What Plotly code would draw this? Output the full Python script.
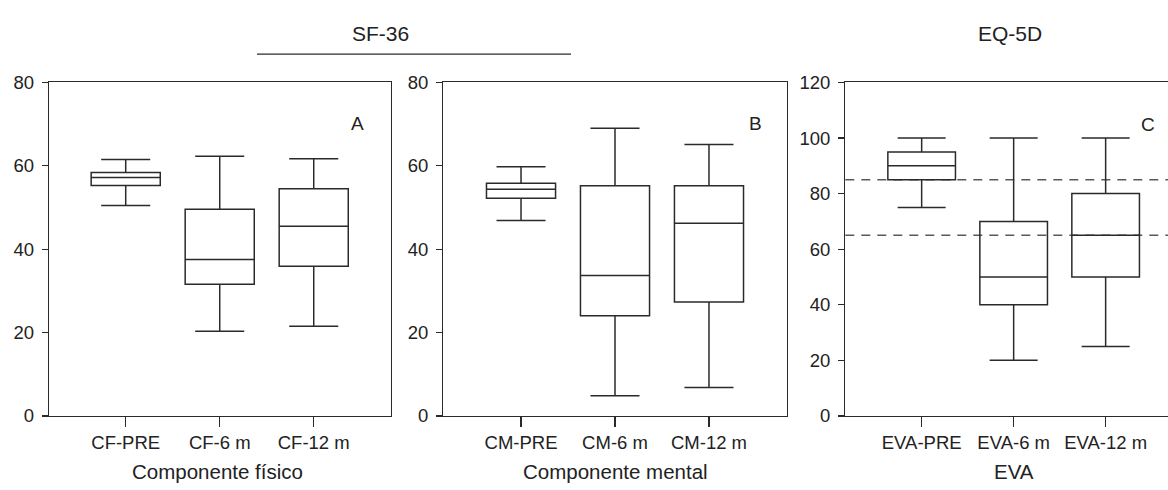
import plotly.graph_objects as go

# ---- data ----
cf_cats = ["CF-PRE", "CF-6 m", "CF-12 m"]
cf_low = [50.5, 20.3, 21.5]
cf_q1 = [55.3, 31.6, 35.9]
cf_med = [57.2, 37.5, 45.5]
cf_q3 = [58.4, 49.6, 54.5]
cf_high = [61.5, 62.3, 61.7]

cm_cats = ["CM-PRE", "CM-6 m", "CM-12 m"]
cm_low = [46.9, 4.8, 6.8]
cm_q1 = [52.2, 24.0, 27.3]
cm_med = [54.4, 33.7, 46.2]
cm_q3 = [55.8, 55.2, 55.2]
cm_high = [59.8, 69.0, 65.1]

eva_cats = ["EVA-PRE", "EVA-6 m", "EVA-12 m"]
eva_low = [75, 20, 25]
eva_q1 = [85, 40, 50]
eva_med = [90, 50, 65]
eva_q3 = [95, 70, 80]
eva_high = [100, 100, 100]
eva_refs = [85, 65]

sf_ticks = [0, 20, 40, 60, 80]
eva_ticks = [0, 20, 40, 60, 80, 100, 120]

# ---- styling ----
FONT = "Liberation Sans, Arial, sans-serif"
TXT = "#222222"
LINE = "#2a2a2a"
# the figure is a bit wider than the 1168 px window: panel C's right edge
# falls outside the visible picture, as in the reference
W, H = 1192, 490

def px_x(p):
    return p / W

def px_y(p):
    return 1 - p / H

fig = go.Figure()

panels = [
    (cf_cats, cf_low, cf_q1, cf_med, cf_q3, cf_high, "x", "y"),
    (cm_cats, cm_low, cm_q1, cm_med, cm_q3, cm_high, "x2", "y2"),
    (eva_cats, eva_low, eva_q1, eva_med, eva_q3, eva_high, "x3", "y3"),
]
for cats, lo, q1, med, q3, hi, xa, ya in panels:
    fig.add_trace(go.Box(
        x=cats, q1=q1, median=med, q3=q3, lowerfence=lo, upperfence=hi,
        xaxis=xa, yaxis=ya, boxpoints=False,
        fillcolor="rgba(0,0,0,0)",
        line=dict(color=LINE, width=1.5),
        width=0.735, whiskerwidth=0.71,
        showlegend=False, hoverinfo="skip",
    ))

ydom = [px_y(423), px_y(74.7)]

def xaxis_cfg(dom, rng, cats, anchor, mirror=True):
    return dict(
        domain=dom, range=rng, type="category", anchor=anchor,
        categoryorder="array", categoryarray=cats,
        showline=True, linecolor=LINE, linewidth=1.3, mirror=mirror,
        ticks="outside", ticklen=10, tickwidth=1.3, tickcolor=LINE,
        showgrid=False, zeroline=False,
        tickfont=dict(family=FONT, size=18.5, color=TXT),
        fixedrange=True,
    )

def yaxis_cfg(anchor, rng, ticks, mirror=True):
    return dict(
        domain=ydom, range=rng, anchor=anchor,
        tickvals=ticks, ticktext=[str(t) for t in ticks],
        showline=True, linecolor=LINE, linewidth=1.3, mirror=mirror,
        ticks="outside", ticklen=6, tickwidth=1.3, tickcolor=LINE,
        ticklabelstandoff=4,
        showgrid=False, zeroline=False,
        tickfont=dict(family=FONT, size=18.5, color=TXT),
        fixedrange=True,
    )

fig.update_layout(
    width=W, height=H,
    margin=dict(l=0, r=0, t=0, b=0),
    paper_bgcolor="white", plot_bgcolor="white",
    font=dict(family=FONT, color=TXT),
    dragmode=False, hovermode=False,
    xaxis=xaxis_cfg([px_x(49), px_x(391)], [-0.816, 2.822], cf_cats, "y"),
    yaxis=yaxis_cfg("x", [0, 80], sf_ticks),
    xaxis2=xaxis_cfg([px_x(443.3), px_x(786.7)], [-0.827, 2.827], cm_cats, "y2"),
    yaxis2=yaxis_cfg("x2", [0, 80], sf_ticks),
    xaxis3=xaxis_cfg([px_x(845.3), px_x(1182)], [-0.830, 2.830], eva_cats, "y3"),
    yaxis3=yaxis_cfg("x3", [0, 120], eva_ticks),
)

# reference dashed lines in panel C
for v in eva_refs:
    fig.add_shape(type="line", xref="x3 domain", yref="y3",
                  x0=0, x1=1, y0=v, y1=v,
                  line=dict(color="#5a5a5a", width=1.4, dash="9px,7px"),
                  layer="below")

# bracket line under SF-36
fig.add_shape(type="line", xref="paper", yref="paper",
              x0=px_x(257), x1=px_x(571), y0=px_y(45), y1=px_y(45),
              line=dict(color=LINE, width=1.3))

ann = [
    ("SF-36", 380, 24, 21),
    ("EQ-5D", 1010, 24, 21),
    ("A", 357, 118, 19),
    ("B", 755, 118, 19),
    ("C", 1148, 118.5, 19),
    ("Componente físico", 217, 481, 20.5),
    ("Componente mental", 615, 481, 20.5),
    ("EVA", 1013.7, 481, 20.5),
]
for text, x, y, size in ann:
    fig.add_annotation(text=text, xref="paper", yref="paper",
                       x=px_x(x), y=px_y(y), xanchor="center", yanchor="middle",
                       showarrow=False,
                       font=dict(family=FONT, size=size, color=TXT))

fig.write_html(
    "out.html",
    config={"displayModeBar": False, "staticPlot": True},
    post_script="document.body.style.margin='0';document.body.style.overflow='hidden';",
)
